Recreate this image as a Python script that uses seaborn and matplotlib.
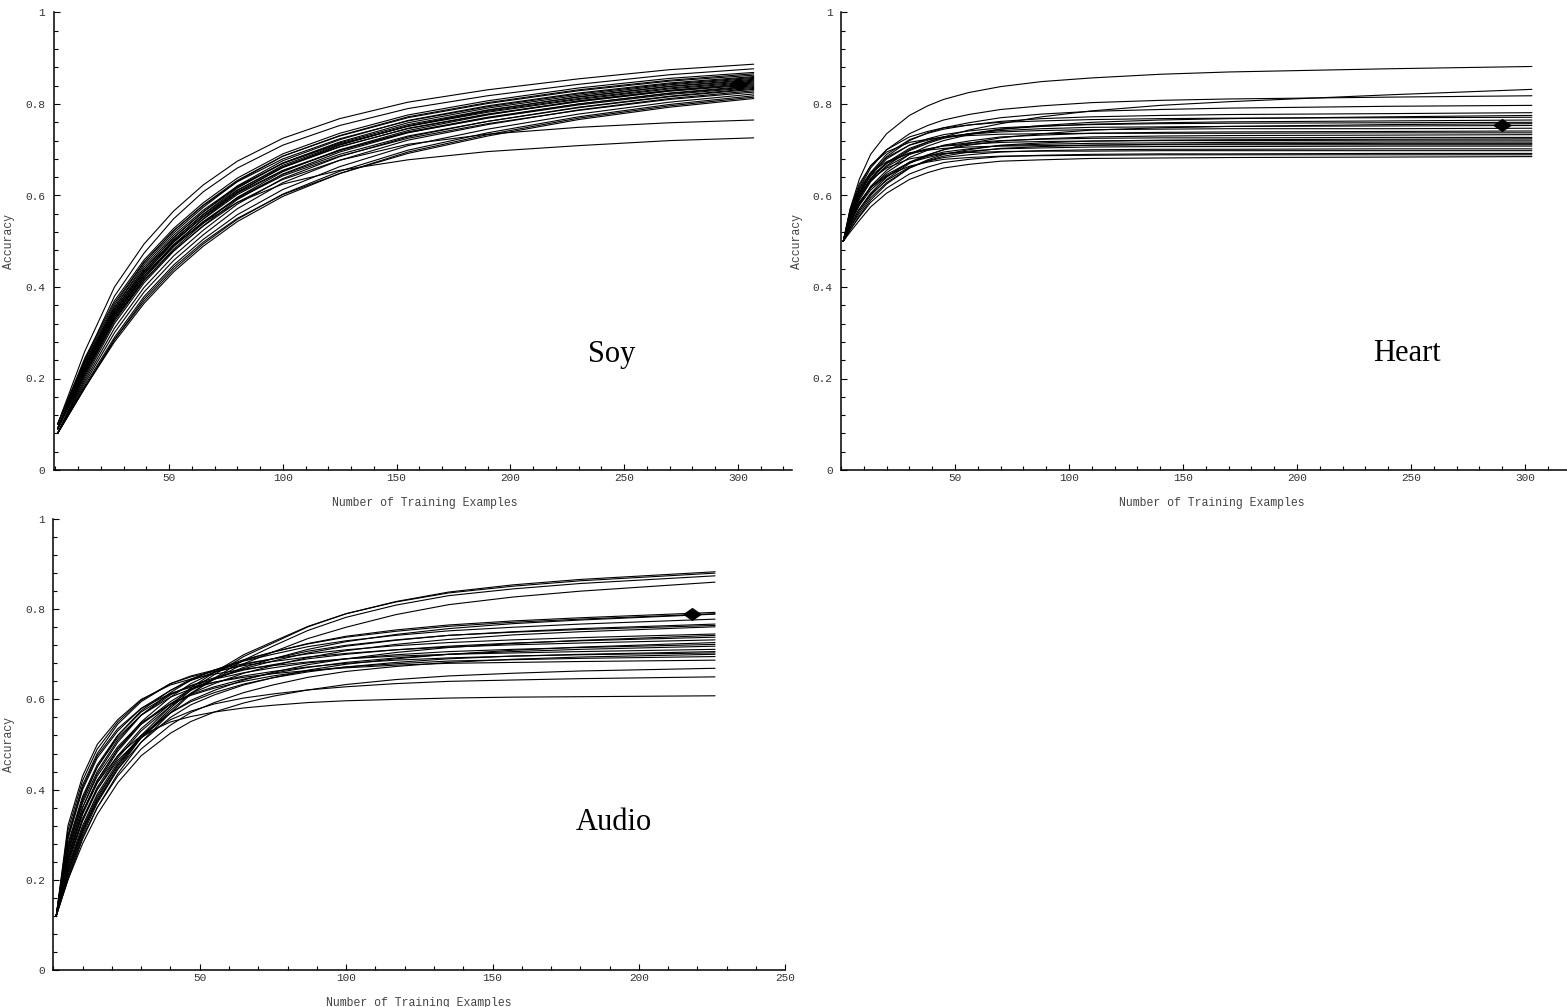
import matplotlib
matplotlib.use("Agg")
import pandas as pd
import matplotlib.pyplot as plt
from matplotlib.path import Path
from matplotlib.ticker import MultipleLocator
import seaborn as sns

# %%
# learning curves: accuracy at a few training-set sizes, one list per run

soy_n = [1, 13, 26, 39, 52, 65, 80, 100, 125, 155, 190, 230, 270, 307]
soy_runs = [
    [0.10, 0.26, 0.40, 0.494, 0.566, 0.623, 0.675, 0.725, 0.768, 0.804, 0.831, 0.855, 0.875, 0.887],
    [0.09, 0.24, 0.38, 0.474, 0.549, 0.608, 0.66, 0.71, 0.753, 0.79, 0.818, 0.843, 0.864, 0.877],
    [0.10, 0.245, 0.37, 0.459, 0.528, 0.584, 0.638, 0.691, 0.736, 0.776, 0.807, 0.835, 0.856, 0.869],
    [0.09, 0.23, 0.355, 0.449, 0.518, 0.574, 0.631, 0.686, 0.731, 0.772, 0.803, 0.831, 0.852, 0.866],
    [0.09, 0.235, 0.36, 0.454, 0.523, 0.579, 0.633, 0.686, 0.73, 0.77, 0.801, 0.829, 0.85, 0.863],
    [0.09, 0.225, 0.35, 0.439, 0.508, 0.564, 0.621, 0.676, 0.722, 0.764, 0.796, 0.824, 0.846, 0.860],
    [0.10, 0.24, 0.365, 0.454, 0.523, 0.578, 0.63, 0.68, 0.724, 0.763, 0.794, 0.822, 0.844, 0.858],
    [0.09, 0.22, 0.345, 0.434, 0.503, 0.559, 0.616, 0.671, 0.717, 0.759, 0.791, 0.819, 0.842, 0.856],
    [0.08, 0.21, 0.33, 0.419, 0.491, 0.549, 0.606, 0.662, 0.71, 0.752, 0.786, 0.816, 0.839, 0.854],
    [0.09, 0.23, 0.35, 0.439, 0.508, 0.564, 0.618, 0.671, 0.715, 0.755, 0.787, 0.815, 0.838, 0.852],
    [0.09, 0.22, 0.34, 0.429, 0.498, 0.554, 0.611, 0.666, 0.711, 0.752, 0.784, 0.812, 0.835, 0.850],
    [0.10, 0.235, 0.355, 0.444, 0.513, 0.568, 0.62, 0.67, 0.713, 0.751, 0.782, 0.81, 0.833, 0.848],
    [0.08, 0.205, 0.325, 0.414, 0.483, 0.539, 0.596, 0.652, 0.70, 0.742, 0.776, 0.807, 0.83, 0.846],
    [0.09, 0.22, 0.34, 0.429, 0.498, 0.554, 0.608, 0.661, 0.706, 0.747, 0.778, 0.806, 0.829, 0.844],
    [0.09, 0.225, 0.345, 0.434, 0.503, 0.558, 0.612, 0.663, 0.707, 0.746, 0.777, 0.805, 0.828, 0.842],
    [0.08, 0.20, 0.32, 0.409, 0.478, 0.534, 0.591, 0.647, 0.695, 0.737, 0.77, 0.80, 0.824, 0.840],
    [0.09, 0.215, 0.335, 0.424, 0.493, 0.548, 0.602, 0.654, 0.698, 0.739, 0.771, 0.80, 0.823, 0.838],
    [0.09, 0.225, 0.345, 0.434, 0.50, 0.553, 0.605, 0.655, 0.699, 0.738, 0.769, 0.798, 0.821, 0.836],
    [0.08, 0.195, 0.31, 0.399, 0.468, 0.524, 0.581, 0.637, 0.685, 0.728, 0.762, 0.793, 0.817, 0.834],
    [0.09, 0.21, 0.33, 0.419, 0.488, 0.543, 0.595, 0.646, 0.69, 0.73, 0.762, 0.792, 0.816, 0.832],
    [0.08, 0.19, 0.30, 0.389, 0.458, 0.514, 0.571, 0.628, 0.677, 0.721, 0.755, 0.787, 0.812, 0.829],
    [0.09, 0.215, 0.335, 0.424, 0.49, 0.542, 0.593, 0.643, 0.686, 0.725, 0.757, 0.786, 0.81, 0.826],
    [0.08, 0.185, 0.29, 0.379, 0.448, 0.504, 0.558, 0.613, 0.663, 0.709, 0.745, 0.778, 0.804, 0.822],
    [0.08, 0.18, 0.285, 0.369, 0.438, 0.494, 0.548, 0.603, 0.653, 0.699, 0.737, 0.772, 0.799, 0.818],
    [0.08, 0.18, 0.28, 0.364, 0.433, 0.489, 0.543, 0.598, 0.648, 0.695, 0.733, 0.769, 0.796, 0.815],
    [0.08, 0.18, 0.285, 0.374, 0.443, 0.498, 0.55, 0.602, 0.648, 0.692, 0.73, 0.766, 0.793, 0.812],
    [0.09, 0.21, 0.33, 0.414, 0.48, 0.533, 0.585, 0.635, 0.677, 0.712, 0.734, 0.749, 0.759, 0.765],
    [0.09, 0.22, 0.34, 0.424, 0.49, 0.54, 0.585, 0.625, 0.655, 0.678, 0.696, 0.709, 0.72, 0.726],
]
soy_best = (300, 0.844)

heart_n = [1, 4, 8, 13, 20, 30, 38, 45, 56, 70, 88, 110, 140, 170, 240, 303]
heart_runs = [
    [0.50, 0.57, 0.635, 0.69, 0.735, 0.775, 0.796, 0.81, 0.825, 0.838, 0.849, 0.857, 0.865, 0.870, 0.877, 0.882],
    [0.50, 0.55, 0.595, 0.635, 0.67, 0.70, 0.717, 0.728, 0.743, 0.757, 0.772, 0.785, 0.797, 0.805, 0.82, 0.832],
    [0.50, 0.56, 0.615, 0.66, 0.70, 0.735, 0.753, 0.765, 0.777, 0.788, 0.796, 0.803, 0.808, 0.811, 0.815, 0.818],
    [0.50, 0.55, 0.60, 0.645, 0.685, 0.72, 0.737, 0.748, 0.759, 0.77, 0.778, 0.784, 0.788, 0.791, 0.795, 0.797],
    [0.50, 0.555, 0.605, 0.65, 0.69, 0.722, 0.736, 0.745, 0.754, 0.762, 0.768, 0.772, 0.775, 0.777, 0.779, 0.781],
    [0.50, 0.54, 0.58, 0.62, 0.655, 0.69, 0.708, 0.72, 0.733, 0.745, 0.753, 0.76, 0.765, 0.768, 0.772, 0.775],
    [0.50, 0.565, 0.62, 0.665, 0.70, 0.728, 0.74, 0.748, 0.754, 0.76, 0.763, 0.766, 0.768, 0.769, 0.770, 0.771],
    [0.50, 0.545, 0.59, 0.63, 0.665, 0.698, 0.714, 0.725, 0.735, 0.745, 0.751, 0.756, 0.759, 0.761, 0.763, 0.765],
    [0.50, 0.555, 0.605, 0.645, 0.68, 0.71, 0.724, 0.733, 0.741, 0.748, 0.752, 0.755, 0.757, 0.758, 0.759, 0.760],
    [0.50, 0.53, 0.565, 0.60, 0.635, 0.67, 0.688, 0.70, 0.714, 0.726, 0.735, 0.743, 0.748, 0.751, 0.755, 0.757],
    [0.50, 0.55, 0.598, 0.638, 0.672, 0.703, 0.717, 0.727, 0.735, 0.742, 0.746, 0.749, 0.750, 0.751, 0.752, 0.753],
    [0.50, 0.56, 0.61, 0.65, 0.683, 0.71, 0.721, 0.728, 0.734, 0.739, 0.742, 0.744, 0.745, 0.746, 0.746, 0.747],
    [0.50, 0.54, 0.58, 0.617, 0.65, 0.683, 0.699, 0.71, 0.719, 0.728, 0.732, 0.736, 0.738, 0.739, 0.740, 0.741],
    [0.50, 0.57, 0.625, 0.665, 0.695, 0.716, 0.723, 0.728, 0.731, 0.734, 0.735, 0.736, 0.736, 0.736, 0.737, 0.737],
    [0.50, 0.535, 0.57, 0.605, 0.64, 0.673, 0.689, 0.70, 0.71, 0.719, 0.724, 0.728, 0.730, 0.731, 0.732, 0.733],
    [0.50, 0.55, 0.595, 0.632, 0.663, 0.69, 0.701, 0.709, 0.715, 0.72, 0.723, 0.725, 0.726, 0.726, 0.727, 0.727],
    [0.50, 0.525, 0.555, 0.59, 0.625, 0.66, 0.678, 0.69, 0.70, 0.71, 0.715, 0.719, 0.721, 0.722, 0.723, 0.724],
    [0.50, 0.56, 0.607, 0.643, 0.67, 0.693, 0.702, 0.708, 0.712, 0.716, 0.718, 0.719, 0.720, 0.720, 0.721, 0.721],
    [0.50, 0.54, 0.578, 0.612, 0.642, 0.672, 0.686, 0.695, 0.702, 0.709, 0.712, 0.714, 0.715, 0.716, 0.717, 0.717],
    [0.50, 0.53, 0.56, 0.595, 0.628, 0.66, 0.676, 0.686, 0.695, 0.703, 0.707, 0.71, 0.712, 0.713, 0.714, 0.714],
    [0.50, 0.565, 0.615, 0.65, 0.674, 0.692, 0.699, 0.703, 0.706, 0.708, 0.709, 0.71, 0.711, 0.711, 0.711, 0.711],
    [0.50, 0.545, 0.585, 0.618, 0.646, 0.672, 0.683, 0.691, 0.697, 0.702, 0.704, 0.706, 0.707, 0.707, 0.708, 0.708],
    [0.50, 0.535, 0.57, 0.603, 0.633, 0.662, 0.675, 0.683, 0.689, 0.695, 0.698, 0.70, 0.701, 0.701, 0.702, 0.702],
    [0.50, 0.555, 0.60, 0.635, 0.66, 0.68, 0.687, 0.692, 0.694, 0.696, 0.697, 0.697, 0.698, 0.698, 0.698, 0.698],
    [0.50, 0.525, 0.553, 0.585, 0.616, 0.647, 0.662, 0.672, 0.679, 0.685, 0.688, 0.69, 0.691, 0.691, 0.692, 0.692],
    [0.50, 0.545, 0.585, 0.617, 0.643, 0.664, 0.673, 0.679, 0.683, 0.686, 0.687, 0.688, 0.689, 0.689, 0.689, 0.689],
    [0.50, 0.52, 0.545, 0.575, 0.605, 0.635, 0.65, 0.66, 0.668, 0.675, 0.678, 0.681, 0.682, 0.683, 0.684, 0.685],
]
heart_best = (290, 0.754)

audio_n = [1, 5, 10, 15, 22, 30, 40, 47, 55, 65, 75, 87, 100, 117, 135, 157, 180, 226]
audio_runs = [
    [0.12, 0.21, 0.30, 0.37, 0.445, 0.515, 0.58, 0.621, 0.655, 0.695, 0.725, 0.761, 0.79, 0.817, 0.838, 0.854, 0.866, 0.883],
    [0.12, 0.22, 0.31, 0.38, 0.455, 0.52, 0.585, 0.626, 0.66, 0.699, 0.728, 0.762, 0.79, 0.816, 0.836, 0.851, 0.863, 0.880],
    [0.12, 0.20, 0.29, 0.36, 0.435, 0.505, 0.57, 0.612, 0.647, 0.687, 0.718, 0.753, 0.782, 0.809, 0.83, 0.845, 0.857, 0.874],
    [0.12, 0.215, 0.305, 0.375, 0.45, 0.515, 0.575, 0.614, 0.645, 0.679, 0.705, 0.735, 0.76, 0.788, 0.81, 0.827, 0.84, 0.860],
    [0.12, 0.25, 0.35, 0.42, 0.49, 0.55, 0.605, 0.635, 0.66, 0.686, 0.705, 0.724, 0.74, 0.754, 0.765, 0.774, 0.781, 0.793],
    [0.12, 0.26, 0.36, 0.435, 0.505, 0.565, 0.615, 0.643, 0.665, 0.688, 0.705, 0.723, 0.738, 0.751, 0.762, 0.771, 0.778, 0.790],
    [0.12, 0.24, 0.335, 0.405, 0.475, 0.535, 0.59, 0.62, 0.645, 0.671, 0.69, 0.711, 0.728, 0.744, 0.757, 0.768, 0.776, 0.789],
    [0.12, 0.27, 0.375, 0.45, 0.52, 0.575, 0.62, 0.645, 0.665, 0.685, 0.70, 0.717, 0.73, 0.742, 0.752, 0.760, 0.767, 0.778],
    [0.12, 0.245, 0.345, 0.415, 0.485, 0.545, 0.595, 0.623, 0.645, 0.668, 0.685, 0.703, 0.718, 0.731, 0.742, 0.750, 0.757, 0.767],
    [0.12, 0.29, 0.40, 0.47, 0.53, 0.58, 0.62, 0.642, 0.66, 0.677, 0.69, 0.707, 0.72, 0.732, 0.742, 0.749, 0.755, 0.764],
    [0.12, 0.235, 0.33, 0.40, 0.47, 0.53, 0.585, 0.613, 0.635, 0.658, 0.675, 0.693, 0.708, 0.722, 0.733, 0.743, 0.75, 0.761],
    [0.12, 0.30, 0.41, 0.48, 0.545, 0.595, 0.635, 0.652, 0.665, 0.679, 0.69, 0.701, 0.71, 0.719, 0.726, 0.732, 0.737, 0.745],
    [0.12, 0.225, 0.315, 0.385, 0.455, 0.515, 0.57, 0.598, 0.62, 0.643, 0.66, 0.677, 0.69, 0.704, 0.715, 0.724, 0.731, 0.742],
    [0.12, 0.265, 0.37, 0.44, 0.51, 0.565, 0.61, 0.631, 0.648, 0.665, 0.677, 0.69, 0.70, 0.71, 0.718, 0.725, 0.73, 0.738],
    [0.12, 0.31, 0.42, 0.49, 0.55, 0.598, 0.635, 0.65, 0.662, 0.675, 0.684, 0.694, 0.702, 0.71, 0.716, 0.721, 0.725, 0.732],
    [0.12, 0.22, 0.31, 0.375, 0.445, 0.505, 0.56, 0.588, 0.61, 0.632, 0.648, 0.665, 0.678, 0.69, 0.70, 0.709, 0.716, 0.726],
    [0.12, 0.28, 0.385, 0.455, 0.52, 0.572, 0.612, 0.63, 0.645, 0.659, 0.67, 0.681, 0.69, 0.699, 0.706, 0.711, 0.715, 0.722],
    [0.12, 0.25, 0.35, 0.42, 0.49, 0.545, 0.59, 0.611, 0.628, 0.645, 0.658, 0.671, 0.682, 0.692, 0.70, 0.706, 0.711, 0.718],
    [0.12, 0.32, 0.43, 0.50, 0.555, 0.60, 0.632, 0.645, 0.656, 0.667, 0.675, 0.683, 0.69, 0.696, 0.70, 0.703, 0.706, 0.711],
    [0.12, 0.23, 0.32, 0.39, 0.46, 0.52, 0.57, 0.595, 0.615, 0.634, 0.648, 0.661, 0.672, 0.682, 0.69, 0.696, 0.70, 0.706],
    [0.12, 0.275, 0.38, 0.45, 0.515, 0.565, 0.605, 0.623, 0.638, 0.652, 0.662, 0.672, 0.68, 0.687, 0.692, 0.696, 0.699, 0.703],
    [0.12, 0.205, 0.295, 0.36, 0.43, 0.49, 0.543, 0.571, 0.593, 0.615, 0.632, 0.649, 0.662, 0.673, 0.682, 0.689, 0.694, 0.700],
    [0.12, 0.26, 0.36, 0.43, 0.495, 0.548, 0.59, 0.609, 0.625, 0.64, 0.652, 0.663, 0.672, 0.679, 0.685, 0.688, 0.691, 0.695],
    [0.12, 0.295, 0.405, 0.475, 0.535, 0.58, 0.613, 0.627, 0.638, 0.649, 0.657, 0.664, 0.67, 0.676, 0.68, 0.682, 0.684, 0.687],
    [0.12, 0.20, 0.28, 0.345, 0.415, 0.475, 0.525, 0.551, 0.572, 0.592, 0.607, 0.621, 0.633, 0.644, 0.652, 0.658, 0.663, 0.669],
    [0.12, 0.24, 0.335, 0.40, 0.465, 0.515, 0.555, 0.574, 0.59, 0.603, 0.612, 0.621, 0.628, 0.635, 0.64, 0.643, 0.646, 0.650],
    [0.12, 0.25, 0.35, 0.415, 0.475, 0.52, 0.55, 0.562, 0.572, 0.581, 0.587, 0.593, 0.597, 0.60, 0.603, 0.605, 0.606, 0.608],
]
audio_best = (218, 0.789)

ytick_vals = [0, 0.2, 0.4, 0.6, 0.8, 1]
ytick_labels = ["0", "0.2", "0.4", "0.6", "0.8", "1"]


# %%
def to_long(n, runs):
    rows = []
    for i, r in enumerate(runs):
        assert len(r) == len(n)
        rows += [(i, x, y) for x, y in zip(n, r)]
    return pd.DataFrame(rows, columns=["run", "n", "acc"])


sns.set_theme(style="white")
plt.rcParams["font.family"] = ["Liberation Mono", "DejaVu Sans"]

mono = "Liberation Mono"
serif = "Liberation Serif"
diamond = Path([(-1, 0), (0, 0.7), (1, 0), (0, -0.7), (-1, 0)], closed=True)

W, H = 1567, 1007
fig = plt.figure(figsize=(W / 100, H / 100), dpi=100)

# (name, n, runs, best, axes rect in px [left, bottom, right, top], xlim, xmajor, text pos, xlabel x)
panels = [
    ("Soy", soy_n, soy_runs, soy_best, (53.5, 470, 792.4, 12.5), (-0.8, 324),
     range(50, 301, 50), (244.7, 0.236), 0.502),
    ("Heart", heart_n, heart_runs, heart_best, (841, 470, 1567, 12.5), (0, 318.4),
     range(50, 301, 50), (248.2, 0.238), 0.511),
    ("Audio", audio_n, audio_runs, audio_best, (53.3, 970, 785.3, 519), (0, 250),
     range(50, 251, 50), (191.4, 0.310), 0.5),
]

for name, n, runs, best, (l, b, r, t), xlim, xmajor, tpos, xl_x in panels:
    ax = fig.add_axes([l / W, (H - b) / H, (r - l) / W, (b - t) / H])
    df = to_long(n, runs)
    sns.lineplot(data=df, x="n", y="acc", units="run", estimator=None,
                 color="black", lw=0.8, legend=False, ax=ax)
    ax.plot([best[0]], [best[1]], marker=diamond, ms=12, color="black", zorder=5)

    ax.set_xlim(*xlim)
    ax.set_ylim(0, 1)
    ax.set_xticks(list(xmajor))
    ax.xaxis.set_minor_locator(MultipleLocator(10))
    ax.set_yticks(ytick_vals)
    ax.set_yticklabels(ytick_labels)
    ax.yaxis.set_minor_locator(MultipleLocator(0.04))

    sns.despine(ax=ax)
    for s in ["left", "bottom"]:
        ax.spines[s].set_linewidth(1.1)
        ax.spines[s].set_color("black")
    ax.tick_params(which="both", direction="in", color="black", width=0.8,
                   left=True, bottom=True, labelsize=8, labelcolor="#333333")
    ax.tick_params(which="major", length=4.4)
    ax.tick_params(which="minor", length=2.8)
    ax.tick_params(axis="y", pad=6)
    ax.tick_params(axis="x", pad=2)
    for lab in ax.get_xticklabels() + ax.get_yticklabels():
        lab.set_family(mono)

    ax.set_xlabel("Number of Training Examples", family=mono, fontsize=8.3, color="#444444")
    ax.set_ylabel("Accuracy", family=mono, fontsize=8.3, color="#444444")
    ax.xaxis.set_label_coords(xl_x, -0.06)
    ax.yaxis.set_label_coords(-0.052, 0.5)

    ax.text(tpos[0], tpos[1], name, family=serif, fontsize=22, color="black",
            ha="center", va="baseline")

fig.savefig("out.png", dpi=100)
